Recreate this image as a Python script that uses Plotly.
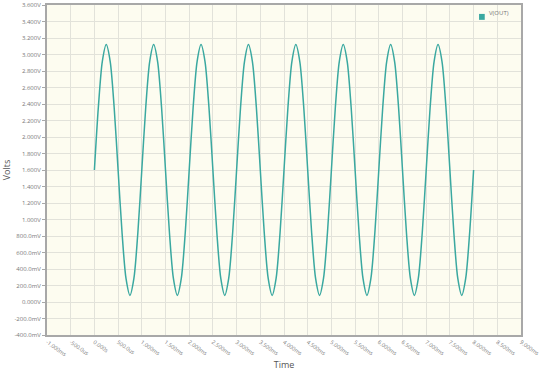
import plotly.graph_objects as go

# Time samples (ms), every 1/12 ms from 0 to 8 ms
time_ms = [i / 12 for i in range(97)]
# V(OUT) readings (V) at each sample
v_out = [1.60, 2.36, 2.915, 3.12, 2.915, 2.36, 1.60, 0.84, 0.285, 0.08, 0.285, 0.84,
         1.60, 2.36, 2.915, 3.12, 2.915, 2.36, 1.60, 0.84, 0.285, 0.08, 0.285, 0.84,
         1.60, 2.36, 2.915, 3.12, 2.915, 2.36, 1.60, 0.84, 0.285, 0.08, 0.285, 0.84,
         1.60, 2.36, 2.915, 3.12, 2.915, 2.36, 1.60, 0.84, 0.285, 0.08, 0.285, 0.84,
         1.60, 2.36, 2.915, 3.12, 2.915, 2.36, 1.60, 0.84, 0.285, 0.08, 0.285, 0.84,
         1.60, 2.36, 2.915, 3.12, 2.915, 2.36, 1.60, 0.84, 0.285, 0.08, 0.285, 0.84,
         1.60, 2.36, 2.915, 3.12, 2.915, 2.36, 1.60, 0.84, 0.285, 0.08, 0.285, 0.84,
         1.60, 2.36, 2.915, 3.12, 2.915, 2.36, 1.60, 0.84, 0.285, 0.08, 0.285, 0.84,
         1.60]

x_tick_vals = [-1.0, -0.5, 0.0, 0.5, 1.0, 1.5, 2.0, 2.5, 3.0, 3.5, 4.0,
               4.5, 5.0, 5.5, 6.0, 6.5, 7.0, 7.5, 8.0, 8.5, 9.0]
x_tick_text = ["-1.000ms", "-500.0us", "0.000s", "500.0us", "1.000ms", "1.500ms",
               "2.000ms", "2.500ms", "3.000ms", "3.500ms", "4.000ms", "4.500ms",
               "5.000ms", "5.500ms", "6.000ms", "6.500ms", "7.000ms", "7.500ms",
               "8.000ms", "8.500ms", "9.000ms"]
y_tick_vals = [-0.4, -0.2, 0.0, 0.2, 0.4, 0.6, 0.8, 1.0, 1.2, 1.4, 1.6, 1.8,
               2.0, 2.2, 2.4, 2.6, 2.8, 3.0, 3.2, 3.4, 3.6]
y_tick_text = ["-400.0mV", "-200.0mV", "0.000V", "200.0mV", "400.0mV", "600.0mV",
               "800.0mV", "1.000V", "1.200V", "1.400V", "1.600V", "1.800V",
               "2.000V", "2.200V", "2.400V", "2.600V", "2.800V", "3.000V",
               "3.200V", "3.400V", "3.600V"]
series_name = "V(OUT)"

LINE_COLOR = "#3aa8a0"

fig = go.Figure()
fig.add_trace(go.Scatter(
    x=time_ms, y=v_out, mode="lines", name=series_name, showlegend=False,
    line=dict(color=LINE_COLOR, width=1.5, shape="spline", smoothing=0.8),
))

# compact legend: square swatch + label, top right inside the plot
fig.add_shape(type="rect", xref="paper", yref="paper",
              x0=0.9115, x1=0.9235, y0=0.955, y1=0.973,
              fillcolor=LINE_COLOR, line=dict(width=0))
fig.add_annotation(text=series_name, xref="paper", yref="paper",
                   x=0.928, y=0.976, xanchor="left", yanchor="middle",
                   showarrow=False, font=dict(size=6, color="#777777"))

fig.update_layout(
    width=540, height=375,
    margin=dict(l=47, r=19, t=5, b=40),
    paper_bgcolor="white",
    plot_bgcolor="#fdfcf0",
    font=dict(family="Open Sans, Arial, sans-serif", size=6, color="#777777"),
    showlegend=False,
    xaxis=dict(
        range=[-1.0, 9.0], tickvals=x_tick_vals, ticktext=x_tick_text,
        tickangle=35, showgrid=True, gridcolor="#e2e2da", gridwidth=1,
        showline=True, linecolor="#a8a8a8", linewidth=2, mirror=True,
        ticks="", zeroline=False, automargin=False,
        ticklabeloverflow="allow", tickfont=dict(size=5.5),
        title=dict(text="Time", font=dict(size=9, color="#555555"), standoff=4),
    ),
    yaxis=dict(
        range=[-0.4, 3.6], tickvals=y_tick_vals, ticktext=y_tick_text,
        showgrid=True, gridcolor="#e2e2da", gridwidth=1,
        showline=True, linecolor="#a8a8a8", linewidth=2, mirror=True,
        ticks="outside", ticklen=3, tickcolor="#a8a8a8", zeroline=False,
        automargin=False, ticklabeloverflow="allow",
        title=dict(text="Volts", font=dict(size=9, color="#555555"), standoff=6),
    ),
)

fig.write_html("out.html")
